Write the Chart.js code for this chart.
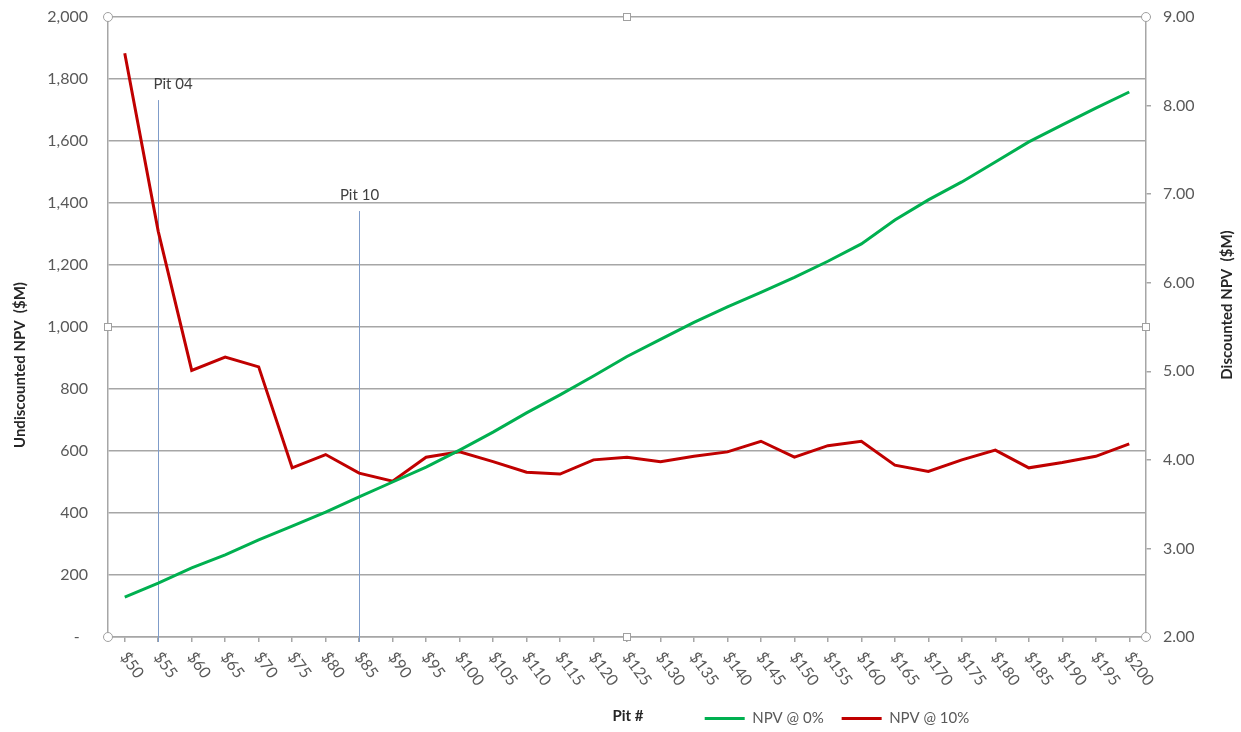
<!DOCTYPE html>
<html>
<head>
<meta charset="utf-8">
<title>NPV by Pit</title>
<script src="https://cdn.jsdelivr.net/npm/chart.js@4.4.1/dist/chart.umd.min.js"></script>
<style>
    html, body { margin: 0; padding: 0; background: #fff; }
    #wrap { width: 1241px; height: 732px; }
</style>
</head>
<body>
<div id="wrap"><canvas id="npv-chart" width="1241" height="732"></canvas></div>
<script>
// price cases along the x axis
var priceLabels = ['$50', '$55', '$60', '$65', '$70', '$75', '$80', '$85', '$90', '$95', '$100',
    '$105', '$110', '$115', '$120', '$125', '$130', '$135', '$140', '$145', '$150',
    '$155', '$160', '$165', '$170', '$175', '$180', '$185', '$190', '$195', '$200'];

// NPV @ 0% - left axis, $M
var npvUndiscounted = [129, 174, 223, 265, 313, 358, 403, 452, 500, 548, 603,
    661, 723, 781, 842, 905, 960, 1015, 1065, 1112, 1160,
    1212, 1268, 1345, 1410, 1468, 1532, 1597, 1652, 1706, 1758];

// NPV @ 10% - right axis, $M
var npvDiscounted = [8.59, 6.58, 5.01, 5.16, 5.05, 3.91, 4.06, 3.85, 3.76, 4.03, 4.09,
    3.98, 3.86, 3.84, 4.00, 4.03, 3.98, 4.04, 4.09, 4.21, 4.03,
    4.16, 4.21, 3.94, 3.87, 4.00, 4.11, 3.91, 3.97, 4.04, 4.18];

// pit markers
var pitNames = ['Pit 04', 'Pit 10'];
var pitPrices = ['$55', '$85'];
var pitTops = [1732, 1374];   // top of marker line, left axis units

var tickColor = '#595959';
var gridColor = '#a6a6a6';

// keep tick padding from pushing the plot area down
function fixAxisWidth(width) {
    return function(scale) {
        scale.width = width;
        scale.paddingTop = 10;
        scale.paddingBottom = 10;
    };
}

// everything Chart.js won't draw the Excel way
var extrasPlugin = {
    id: 'extras',
    afterUpdate: function(chart) {
        // put the legend to the right of the "Pit #" label
        var lg = chart.legend;
        var dx = 837 - (lg.left + lg.right) / 2;
        lg.left += dx;
        lg.right += dx;
        lg.top += 4;
        lg.bottom += 4;
    },
    beforeDatasetsDraw: function(chart) {
        var ctx = chart.ctx;
        var xs = chart.scales.x;
        var ys = chart.scales.y;
        ctx.save();
        ctx.strokeStyle = '#7f9cc9';
        ctx.lineWidth = 1;
        ctx.fillStyle = '#404040';
        ctx.font = '15px Lato';
        ctx.textBaseline = 'middle';
        pitNames.forEach(function(name, i) {
            var px = Math.round(xs.getPixelForValue(priceLabels.indexOf(pitPrices[i]))) + 0.5;
            var top = ys.getPixelForValue(pitTops[i]);
            ctx.beginPath();
            ctx.moveTo(px, top);
            ctx.lineTo(px, ys.bottom + 5);
            ctx.stroke();
            ctx.textAlign = i === 0 ? 'left' : 'center';
            ctx.fillText(name, i === 0 ? px - 5 : px, top - 16);
        });
        ctx.restore();
    },
    afterDraw: function(chart) {
        var ctx = chart.ctx;
        var xs = chart.scales.x;
        var area = chart.chartArea;
        ctx.save();

        // rotated price labels
        ctx.font = '16px Lato';
        ctx.fillStyle = tickColor;
        ctx.textAlign = 'left';
        ctx.textBaseline = 'middle';
        priceLabels.forEach(function(lab, i) {
            var px = xs.getPixelForTick(i);
            ctx.save();
            ctx.translate(px - 1, xs.top + 17);
            ctx.rotate(54 * Math.PI / 180);
            ctx.fillText(lab, 0, 0);
            ctx.restore();
        });

        // axis titles
        ctx.font = 'bold 15px Lato';
        ctx.fillStyle = '#262626';
        ctx.textAlign = 'center';
        ctx.save();
        ctx.translate(20, 365);
        ctx.rotate(-Math.PI / 2);
        ctx.fillText('Undiscounted NPV  ($M)', 0, 0);
        ctx.restore();
        ctx.save();
        ctx.translate(1227, 305);
        ctx.rotate(-Math.PI / 2);
        ctx.fillText('Discounted NPV  ($M)', 0, 0);
        ctx.restore();
        var lg = chart.legend;
        ctx.fillText('Pit #', 628, (lg.top + lg.bottom) / 2 + 2);

        // selection handles on the plot area
        ctx.strokeStyle = '#a0a0a0';
        ctx.fillStyle = '#ffffff';
        ctx.lineWidth = 1;
        var midX = (area.left + area.right) / 2;
        var midY = (area.top + area.bottom) / 2;
        [[area.left, area.top], [area.right, area.top], [area.left, area.bottom], [area.right, area.bottom]].forEach(function(p) {
            ctx.beginPath();
            ctx.arc(p[0], p[1], 4.5, 0, Math.PI * 2);
            ctx.fill();
            ctx.stroke();
        });
        [[midX, area.top], [midX, area.bottom], [area.left, midY], [area.right, midY]].forEach(function(p) {
            ctx.fillRect(p[0] - 3.5, p[1] - 3.5, 7, 7);
            ctx.strokeRect(p[0] - 3.5, p[1] - 3.5, 7, 7);
        });
        ctx.restore();
    }
};

var ctxNpv = document.getElementById('npv-chart').getContext('2d');
var npvChart = new Chart(ctxNpv, {
    type: 'line',
    data: {
        labels: priceLabels,
        datasets: [{
            label: 'NPV @ 0%',
            data: npvUndiscounted,
            borderColor: '#00b050',
            backgroundColor: '#00b050',
            borderWidth: 3,
            pointRadius: 0,
            tension: 0,
            yAxisID: 'y'
        }, {
            label: 'NPV @ 10%',
            data: npvDiscounted,
            borderColor: '#c00000',
            backgroundColor: '#c00000',
            borderWidth: 3,
            pointRadius: 0,
            tension: 0,
            yAxisID: 'y1'
        }]
    },
    options: {
        responsive: false,
        animation: false,
        layout: { padding: { top: 17, left: 0, right: 0, bottom: 0 } },
        plugins: {
            tooltip: { enabled: false },
            legend: {
                position: 'bottom',
                labels: {
                    usePointStyle: true,
                    pointStyle: 'line',
                    pointStyleWidth: 40,
                    boxHeight: 15,
                    padding: 18,
                    color: tickColor,
                    font: { family: 'Lato', size: 15 }
                }
            }
        },
        scales: {
            x: {
                offset: true,
                grid: { drawOnChartArea: false, tickLength: 5, color: gridColor, lineWidth: 1.5 },
                border: { color: gridColor, width: 1.5 },
                ticks: { display: false },
                afterFit: function(scale) { scale.height = 52; }
            },
            y: {
                position: 'left',
                min: 0,
                max: 2000,
                grid: { color: gridColor, lineWidth: 1.5, drawTicks: false },
                border: { color: gridColor, width: 1.5 },
                ticks: {
                    stepSize: 200,
                    padding: 20,
                    color: tickColor,
                    font: { family: 'Lato', size: 16 },
                    callback: function(v) { return v === 0 ? '-  ' : v.toLocaleString('en-US'); }
                },
                afterFit: fixAxisWidth(108)
            },
            y1: {
                position: 'right',
                min: 2,
                max: 9,
                grid: { drawOnChartArea: false, tickLength: 5, color: gridColor, lineWidth: 1.5 },
                border: { color: gridColor, width: 1.5 },
                ticks: {
                    stepSize: 1,
                    padding: 12,
                    color: tickColor,
                    font: { family: 'Lato', size: 16 },
                    callback: function(v) { return v.toFixed(2); }
                },
                afterFit: fixAxisWidth(95)
            }
        }
    },
    plugins: [extrasPlugin]
});
</script>
</body>
</html>
